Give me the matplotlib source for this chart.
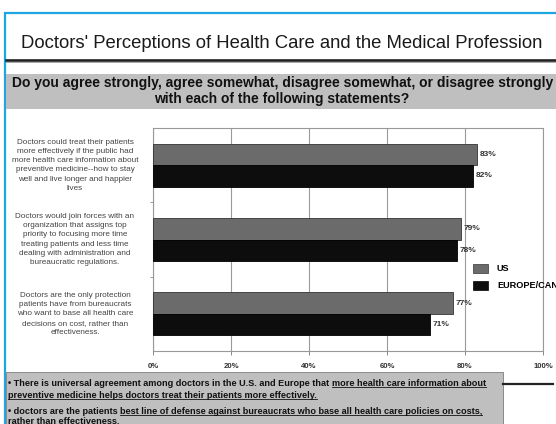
import matplotlib
matplotlib.use("Agg")
import matplotlib.pyplot as plt
from matplotlib.patches import Rectangle, Patch
from matplotlib.lines import Line2D
from matplotlib.transforms import blended_transform_factory

plt.rcParams['font.family'] = ['Liberation Sans', 'DejaVu Sans']

W, H = 556, 424

title = "Doctors' Perceptions of Health Care and the Medical Profession"
question = ["Do you agree strongly, agree somewhat, disagree somewhat, or disagree strongly",
            "with each of the following statements?"]
categories = [
    "Doctors could treat their patients\nmore effectively if the public had\nmore health care information about\npreventive medicine--how to stay\nwell and live longer and happier\nlives",
    "Doctors would join forces with an\norganization that assigns top\npriority to focusing more time\ntreating patients and less time\ndealing with administration and\nbureaucratic regulations.",
    "Doctors are the only protection\npatients have from bureaucrats\nwho want to base all health care\ndecisions on cost, rather than\neffectiveness.",
]
series_names = ["US", "EUROPE/CANADA"]
us_values = [83, 79, 77]
europe_values = [82, 78, 71]
x_ticks = [0, 20, 40, 60, 80, 100]
x_tick_labels = ["0%", "20%", "40%", "60%", "80%", "100%"]
notes = [
    [("\u2022 There is universal agreement among doctors in the U.S. and Europe that", False),
     ("more health care information about", True)],
    [("preventive medicine helps doctors treat their patients more effectively.", True)],
    [("\u2022 doctors are the patients", False),
     ("best line of defense against bureaucrats who base all health care policies on costs,", True)],
    [("rather than effectiveness.", True)],
]

us_color = "#6b6b6b"
eu_color = "#0d0d0d"
band_color = "#bfbfbf"

fig = plt.figure(figsize=(W / 100, H / 100), dpi=100)
fig.patch.set_facecolor("white")


def fx(px):
    return px / W


def fy(py):
    return 1 - py / H


# blue frame
fig.add_artist(Rectangle((fx(5), fy(H + 10)), fx(W + 10), (H - 3) / H, transform=fig.transFigure,
                         fill=False, edgecolor="#1ea6e2", linewidth=1.6))

# title
fig.text(fx(21), fy(43), title, fontsize=13.3, color="#1a1a1a", ha="left", va="center")
fig.add_artist(Line2D([fx(6), 1], [fy(59.5), fy(59.5)], transform=fig.transFigure,
                      color="#222222", linewidth=1.9))
fig.add_artist(Line2D([fx(6), 1], [fy(61.5), fy(61.5)], transform=fig.transFigure,
                      color="#9a9a9a", linewidth=0.6))

# question band
fig.add_artist(Rectangle((fx(6), fy(109)), 1, 35 / H, transform=fig.transFigure,
                         facecolor=band_color, edgecolor="none"))
fig.text(fx(12), fy(83), question[0], fontsize=10, fontweight="bold", color="#111111",
         ha="left", va="center")
fig.text(fx(282), fy(99), question[1], fontsize=10, fontweight="bold", color="#111111",
         ha="center", va="center")

# chart
ax = fig.add_axes([fx(153), fy(351), fx(543) - fx(153), (351 - 128) / H])
ypos = list(range(len(categories)))
bh = 0.29
ax.barh([y - bh / 2 for y in ypos], us_values, height=bh, color=us_color,
        edgecolor="#333333", linewidth=0.6, zorder=3)
ax.barh([y + bh / 2 for y in ypos], europe_values, height=bh, color=eu_color,
        edgecolor="#000000", linewidth=0.6, zorder=3)
for y, v in zip(ypos, us_values):
    ax.annotate(f"{v}%", (v, y - bh / 2), xytext=(2, 0), textcoords="offset points",
                fontsize=6, fontweight="bold", color="#333333", ha="left", va="center")
for y, v in zip(ypos, europe_values):
    ax.annotate(f"{v}%", (v, y + bh / 2), xytext=(2, 0), textcoords="offset points",
                fontsize=6, fontweight="bold", color="#333333", ha="left", va="center")

ax.set_xlim(0, 100)
ax.set_ylim(len(categories) - 0.5, -0.5)
ax.set_xticks(x_ticks)
ax.set_xticklabels(x_tick_labels, fontsize=5.6, fontweight="bold", color="#333333")
ax.tick_params(axis="x", length=3, width=0.7, color="#888888", pad=6)
ax.set_yticks([])
ax.set_yticks([0.5, 1.5], minor=True)
ax.tick_params(axis="y", which="minor", length=2, width=0.6, color="#888888")
ax.grid(axis="x", color="#9a9a9a", linewidth=0.8, zorder=0)
for s in ["left", "bottom", "top", "right"]:
    ax.spines[s].set_color("#999999")
    ax.spines[s].set_linewidth(0.8)

tr = blended_transform_factory(ax.transAxes, ax.transData)
for y, lab in zip(ypos, categories):
    ax.text(-0.2, y, lab, transform=tr, fontsize=5.9, color="#444444", ha="center",
            va="center", linespacing=1.45, clip_on=False)

fig.legend(handles=[Patch(facecolor=us_color, edgecolor="#333333", linewidth=0.5),
                    Patch(facecolor=eu_color, edgecolor="#000000", linewidth=0.5)],
           labels=series_names, loc="upper left", bbox_to_anchor=(fx(473), fy(264)),
           frameon=False, prop={"weight": "bold", "size": 6.6},
           handlelength=1.63, handleheight=1.09, handletextpad=0.98, labelspacing=0.8,
           borderpad=0, borderaxespad=0)

# notes box
fig.add_artist(Rectangle((fx(6), fy(H + 5)), fx(503 - 6), (H + 5 - 372) / H,
                         transform=fig.transFigure, facecolor=band_color,
                         edgecolor="#8a8a8a", linewidth=0.7))
fig.add_artist(Line2D([fx(503), fx(553)], [fy(384), fy(384)], transform=fig.transFigure,
                      color="#222222", linewidth=1.6))

renderer = fig.canvas.get_renderer()
note_fs = 6.6
probe_a = fig.text(0, 0, "aa", fontsize=note_fs, fontweight="bold")
probe_b = fig.text(0, 0, "a a", fontsize=note_fs, fontweight="bold")
space_w = probe_b.get_window_extent(renderer).width - probe_a.get_window_extent(renderer).width
probe_a.remove()
probe_b.remove()

line_y = [385.5, 397.5, 413.5, 424]
for yb, segs in zip(line_y, notes):
    x = 8.0
    for text, underline in segs:
        t = fig.text(fx(x), fy(yb), text, fontsize=note_fs, fontweight="bold",
                     color="#111111", ha="left", va="baseline")
        bb = t.get_window_extent(renderer)
        if underline:
            fig.add_artist(Line2D([bb.x0 / W, bb.x1 / W], [fy(yb + 1.3), fy(yb + 1.3)],
                                  transform=fig.transFigure, color="#111111", linewidth=0.6))
        x = bb.x1 + space_w

fig.savefig("out.png", dpi=100, facecolor="white")
